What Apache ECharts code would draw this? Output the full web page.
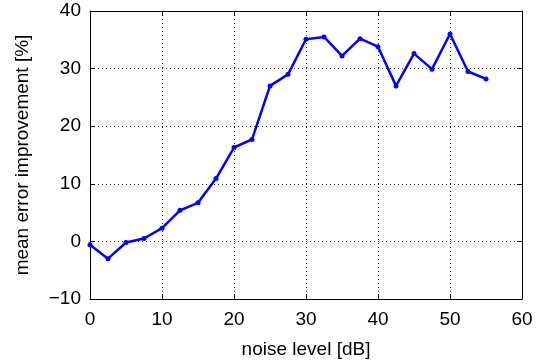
<!DOCTYPE html>
<html>
<head>
<meta charset="utf-8">
<script src="https://cdn.jsdelivr.net/npm/echarts@6/dist/echarts.min.js"></script>
<style>
    html, body { margin: 0; padding: 0; background: #fff; }
    #chart { width: 542px; height: 364px; }
</style>
</head>
<body>
<div id="chart"></div>
<script>
// noise level in dB, and the improvement
var noiseLevel = [0, 2.5, 5, 7.5, 10, 12.5, 15, 17.5, 20, 22.5, 25, 27.5, 30,
    32.5, 35, 37.5, 40, 42.5, 45, 47.5, 50, 52.5, 55];
var improvement = [-0.6, -3.0, -0.2, 0.5, 2.3, 5.4, 6.7, 10.9, 16.3, 17.7, 27.0, 29.0, 35.1,
    35.5, 32.2, 35.2, 33.8, 27.0, 32.6, 29.9, 36.0, 29.5, 28.2];
var xTicks = [0, 60, 10];
var yTicks = [-10, 40, 10];

var font = "Liberation Sans, Arial, sans-serif";
var fs = 19;
var gridLine = { show: true, lineStyle: { color: "#333", type: [1, 3], width: 1 } };
var boxLine = { show: true, onZero: false, lineStyle: { color: "#000", width: 1 } };
var inTick = { show: true, inside: true, length: 5, lineStyle: { color: "#000" } };

var chart = echarts.init(document.getElementById("chart"));
chart.setOption({
    animation: false,
    grid: { left: 90, right: 20, top: 11, bottom: 65 },
    xAxis: [
        {
            type: "value",
            min: xTicks[0],
            max: xTicks[1],
            interval: xTicks[2],
            name: "noise level [dB]",
            nameLocation: "middle",
            nameGap: 41,
            nameTextStyle: { color: "#000", fontSize: fs, fontFamily: font },
            axisLine: boxLine,
            axisTick: inTick,
            splitLine: gridLine,
            axisLabel: { color: "#000", fontSize: fs, fontFamily: font, margin: 11 }
        },
        {
            type: "value",
            position: "top",
            min: xTicks[0],
            max: xTicks[1],
            interval: xTicks[2],
            axisLine: boxLine,
            axisTick: inTick,
            splitLine: { show: false },
            axisLabel: { show: false }
        }
    ],
    yAxis: [
        {
            type: "value",
            min: yTicks[0],
            max: yTicks[1],
            interval: yTicks[2],
            name: "mean error improvement [%]",
            nameLocation: "middle",
            nameGap: 58,
            nameTextStyle: { color: "#000", fontSize: fs, fontFamily: font },
            axisLine: boxLine,
            axisTick: inTick,
            splitLine: gridLine,
            axisLabel: {
                color: "#000",
                fontSize: fs,
                fontFamily: font,
                margin: 9,
                formatter: function (v) { return String(v).replace("-", "\u2212"); }
            }
        },
        {
            type: "value",
            position: "right",
            min: yTicks[0],
            max: yTicks[1],
            interval: yTicks[2],
            axisLine: boxLine,
            axisTick: inTick,
            splitLine: { show: false },
            axisLabel: { show: false }
        }
    ],
    series: [
        {
            type: "line",
            data: noiseLevel.map(function (x, i) { return [x, improvement[i]]; }),
            symbol: "circle",
            symbolSize: 5,
            lineStyle: { color: "#0000ff", width: 2.5 },
            itemStyle: { color: "#0000ff" }
        }
    ]
});
</script>
</body>
</html>
